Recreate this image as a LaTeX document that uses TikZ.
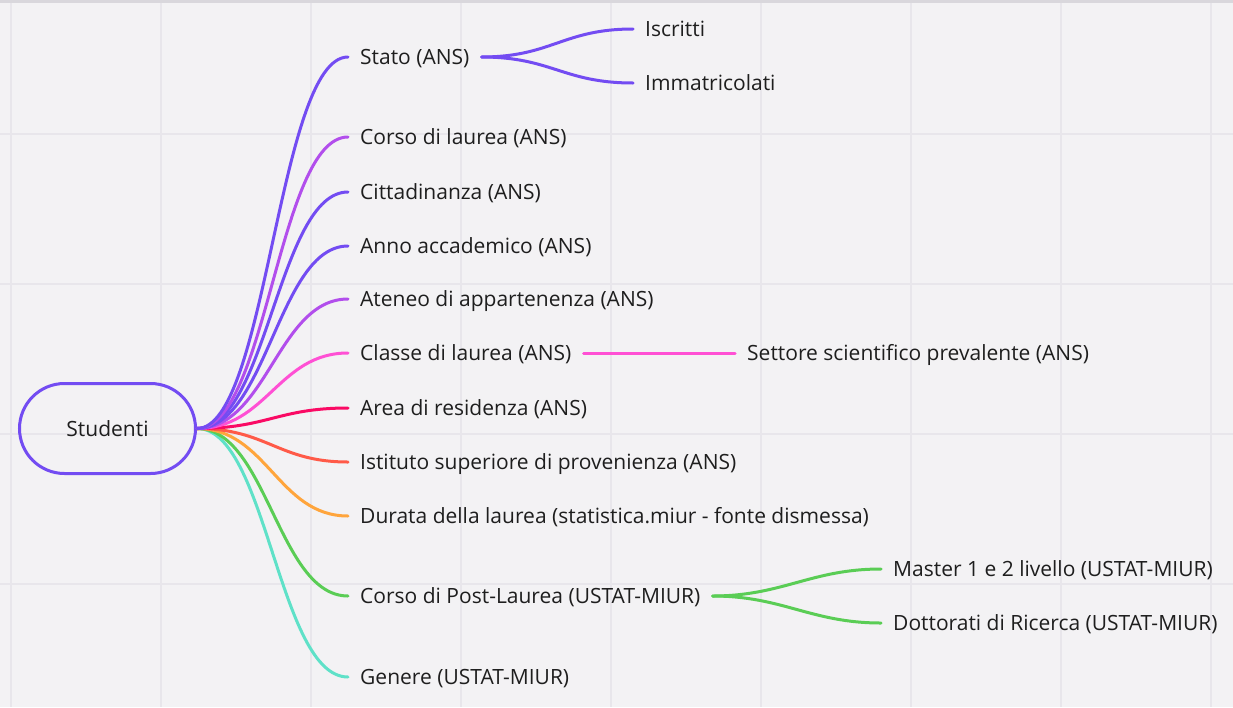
\documentclass[tikz,border=0pt]{standalone}
\usepackage{fontspec}
\setmainfont{Open Sans}
\definecolor{bgcol}{HTML}{F3F2F4}
\definecolor{gridcol}{HTML}{E8E6EB}
\definecolor{topcol}{HTML}{D9D7DC}
\definecolor{txtcol}{HTML}{1E1E1E}
\definecolor{cviolet}{HTML}{734CF2}
\definecolor{cpurple}{HTML}{B24EEC}
\definecolor{cpink}{HTML}{FF50D4}
\definecolor{ccrimson}{HTML}{FA0A64}
\definecolor{cred}{HTML}{FF5A48}
\definecolor{corange}{HTML}{FFA53C}
\definecolor{cgreen}{HTML}{5ACD55}
\definecolor{cteal}{HTML}{5FE1C8}
\tikzset{
  gridline/.style = {gridcol, line width=1.5pt},
  mapbranch/.style = {line width=3pt, line cap=round},
  mapleaf/.style = {anchor=west, inner xsep=12pt, inner ysep=2pt, text=txtcol,
    text height=15pt, text depth=0pt, font=\fontsize{21}{25}\selectfont},
  maproot/.style = {draw=cviolet, line width=3pt, rounded corners=45pt,
    minimum width=176pt, minimum height=90pt, text=txtcol,
    text height=15pt, text depth=0pt, font=\fontsize{21}{25}\selectfont},
}

\begin{document}
\begin{tikzpicture}[x=1pt, y=-1pt]
    \useasboundingbox (0,0) rectangle (1233,707);
    % background and grid
    \fill[bgcol] (0,0) rectangle (1233,707);
    \foreach \gx in {11,161,...,1211}
        \draw[gridline] (\gx,0) -- (\gx,707);
    \foreach \gy in {134,284,434,584}
        \draw[gridline] (0,\gy) -- (1233,\gy);
    \fill[topcol] (0,0) rectangle (1233,3);

    % root
    \node[maproot] (stu) at (107.5,428.5) {Studenti};

    % first level
    \node[mapleaf] (stato) at (348,57) {Stato (ANS)};
    \node[mapleaf] (corso) at (348,137) {Corso di laurea (ANS)};
    \node[mapleaf] (citt) at (348,192) {Cittadinanza (ANS)};
    \node[mapleaf] (anno) at (348,246) {Anno accademico (ANS)};
    \node[mapleaf] (ateneo) at (348,299) {Ateneo di appartenenza (ANS)};
    \node[mapleaf] (classe) at (348,353) {Classe di laurea (ANS)};
    \node[mapleaf] (area) at (348,408) {Area di residenza (ANS)};
    \node[mapleaf] (istit) at (348,462) {Istituto superiore di provenienza (ANS)};
    \node[mapleaf] (durata) at (348,516) {Durata della laurea (statistica.miur - fonte dismessa)};
    \node[mapleaf] (post) at (348,596) {Corso di Post-Laurea (USTAT-MIUR)};
    \node[mapleaf] (genere) at (348,677) {Genere (USTAT-MIUR)};

    % second level
    \node[mapleaf] (iscr) at (633,29) {Iscritti};
    \node[mapleaf] (immat) at (633,83) {Immatricolati};
    \node[mapleaf] (settore) at (735,353) {Settore scientifico prevalente (ANS)};
    \node[mapleaf] (master) at (881,569) {Master 1 e 2 livello (USTAT-MIUR)};
    \node[mapleaf] (dott) at (881,623) {Dottorati di Ricerca (USTAT-MIUR)};

    % branches from the root
    \draw[mapbranch, cteal] (stu.east) .. controls +(70,0) and +(-70,0) .. (genere.west);
    \draw[mapbranch, cgreen] (stu.east) .. controls +(70,0) and +(-70,0) .. (post.west);
    \draw[mapbranch, corange] (stu.east) .. controls +(70,0) and +(-70,0) .. (durata.west);
    \draw[mapbranch, cred] (stu.east) .. controls +(70,0) and +(-70,0) .. (istit.west);
    \draw[mapbranch, ccrimson] (stu.east) .. controls +(70,0) and +(-70,0) .. (area.west);
    \draw[mapbranch, cpink] (stu.east) .. controls +(70,0) and +(-70,0) .. (classe.west);
    \draw[mapbranch, cpurple] (stu.east) .. controls +(70,0) and +(-70,0) .. (ateneo.west);
    \draw[mapbranch, cviolet] (stu.east) .. controls +(70,0) and +(-70,0) .. (anno.west);
    \draw[mapbranch, cviolet] (stu.east) .. controls +(70,0) and +(-70,0) .. (citt.west);
    \draw[mapbranch, cpurple] (stu.east) .. controls +(70,0) and +(-70,0) .. (corso.west);
    \draw[mapbranch, cviolet] (stu.east) .. controls +(70,0) and +(-70,0) .. (stato.west);

    % second level branches
    \draw[mapbranch, cviolet] (stato.east) .. controls +(70,0) and +(-70,0) .. (iscr.west);
    \draw[mapbranch, cviolet] (stato.east) .. controls +(70,0) and +(-70,0) .. (immat.west);
    \draw[mapbranch, cpink] (classe.east) -- (settore.west);
    \draw[mapbranch, cgreen] (post.east) .. controls +(70,0) and +(-70,0) .. (master.west);
    \draw[mapbranch, cgreen] (post.east) .. controls +(70,0) and +(-70,0) .. (dott.west);
\end{tikzpicture}
\end{document}
